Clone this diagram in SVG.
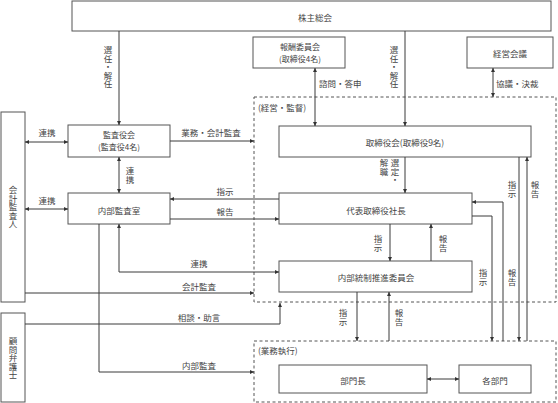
<svg xmlns="http://www.w3.org/2000/svg" width="558" height="403" viewBox="0 0 558 403">
<style>
text{font-family:"Noto Sans CJK JP","Noto Sans CJK SC",sans-serif;font-size:8.5px;fill:#444}
.c{text-anchor:middle}
.s{font-size:8px}
.v{writing-mode:vertical-rl}
.box{fill:#fff;stroke:#555;stroke-width:1}
.dash{fill:none;stroke:#555;stroke-width:1;stroke-dasharray:3,2.5}
.ln{fill:none;stroke:#3a3a3a;stroke-width:1}
.e{marker-end:url(#a)}
.b{marker-start:url(#a);marker-end:url(#a)}
</style>
<defs>
<marker id="a" viewBox="0 0 6 6" refX="6" refY="3" markerWidth="5" markerHeight="4" orient="auto-start-reverse" markerUnits="userSpaceOnUse"><path d="M0,0 L6,3 L0,6 z" fill="#333"/></marker>
</defs>
<rect width="558" height="403" fill="#fff"/>

<g id="region-keiei">
<rect class="dash" x="254" y="97" width="302" height="205"/>
<text x="258" y="111">(経営・監督)</text>
</g>
<g id="region-gyomu">
<rect class="dash" x="254" y="341" width="302" height="61"/>
<text x="258" y="354">(業務執行)</text>
</g>

<g id="kabunushi"><rect class="box" x="72" y="1" width="479" height="30"/><text class="c" x="315" y="20.5">株主総会</text></g>
<g id="hoshu"><rect class="box" x="253" y="37" width="92" height="31"/><text class="c s" x="300" y="49.5">報酬委員会</text><text class="c s" x="300" y="61.5">(取締役4名)</text></g>
<g id="keieikaigi"><rect class="box" x="467" y="37" width="86" height="31"/><text class="c" x="510" y="56.5">経営会議</text></g>
<g id="kansayaku"><rect class="box" x="68" y="125" width="102" height="32"/><text class="c s" x="119" y="137.5">監査役会</text><text class="c s" x="119" y="149.5">(監査役4名)</text></g>
<g id="torishimariyaku"><rect class="box" x="279" y="126" width="252" height="31"/><text class="c" x="405" y="146">取締役会(取締役9名)</text></g>
<g id="naibukansa"><rect class="box" x="68" y="193" width="102" height="31"/><text class="c" x="119" y="214">内部監査室</text></g>
<g id="shacho"><rect class="box" x="279" y="193" width="193" height="31"/><text class="c" x="376" y="214">代表取締役社長</text></g>
<g id="naibutosei"><rect class="box" x="279" y="261" width="193" height="31"/><text class="c" x="376" y="281">内部統制推進委員会</text></g>
<g id="buchou"><rect class="box" x="279" y="365" width="148" height="28"/><text class="c" x="353" y="384">部門長</text></g>
<g id="kakubumon"><rect class="box" x="459" y="365" width="72" height="28"/><text class="c" x="495" y="384">各部門</text></g>
<g id="kaikei"><rect class="box" x="1" y="112" width="24" height="190"/><text class="v" x="13" y="186">会計監査人</text></g>
<g id="bengoshi"><rect class="box" x="1" y="313" width="24" height="89"/><text class="v" x="13" y="337">顧問弁護士</text></g>

<g id="connectors">
<path class="ln e" d="M119,31V125"/>
<path class="ln e" d="M405,31V126"/>
<path class="ln b" d="M315,68V126"/>
<path class="ln b" d="M493,68V97"/>
<path class="ln e" d="M405,157V193"/>
<path class="ln e" d="M390,224V261"/>
<path class="ln e" d="M431,261V224"/>
<path class="ln e" d="M357,292V341"/>
<path class="ln e" d="M389,341V292"/>
<path class="ln e" d="M519,157V341"/>
<path class="ln e" d="M527,341V157"/>
<path class="ln e" d="M472,216H492V341"/>
<path class="ln e" d="M503,341V202H472"/>
<path class="ln b" d="M427,379H459"/>
<path class="ln b" d="M25,142H68"/>
<path class="ln b" d="M25,209H68"/>
<path class="ln b" d="M119,157V193"/>
<path class="ln e" d="M170,141H254"/>
<path class="ln e" d="M279,199H170"/>
<path class="ln e" d="M170,219H279"/>
<path class="ln b" d="M119,224V272H279"/>
<path class="ln e" d="M25,293H254"/>
<path class="ln e" d="M25,324H280V303"/>
<path class="ln e" d="M99,224V372H254"/>

<text class="v" x="108" y="46">選任・解任</text>
<text class="v" x="394" y="46">選任・解任</text>
<text x="319" y="87">諮問・答申</text>
<text x="496" y="87">協議・決裁</text>
<text class="c" x="47" y="136">連携</text>
<text class="c" x="211" y="136">業務・会計監査</text>
<text class="v" x="130" y="167">連携</text>
<text class="c" x="47" y="204">連携</text>
<text class="c" x="225" y="195">指示</text>
<text class="c" x="225" y="215">報告</text>
<text class="c" x="199" y="267">連携</text>
<text class="c" x="199" y="290">会計監査</text>
<text class="c" x="199" y="321">相談・助言</text>
<text class="c" x="199" y="369">内部監査</text>
<text class="v" x="395" y="159">選定・</text>
<text class="v" x="384" y="159">解職</text>
<text class="v" x="378" y="235">指示</text>
<text class="v" x="443" y="235">報告</text>
<text class="v" x="343" y="309">指示</text>
<text class="v" x="399" y="309">報告</text>
<text class="v" x="512" y="181">指示</text>
<text class="v" x="535" y="181">報告</text>
<text class="v" x="483" y="269">指示</text>
<text class="v" x="512" y="269">報告</text>
</g>
</svg>
